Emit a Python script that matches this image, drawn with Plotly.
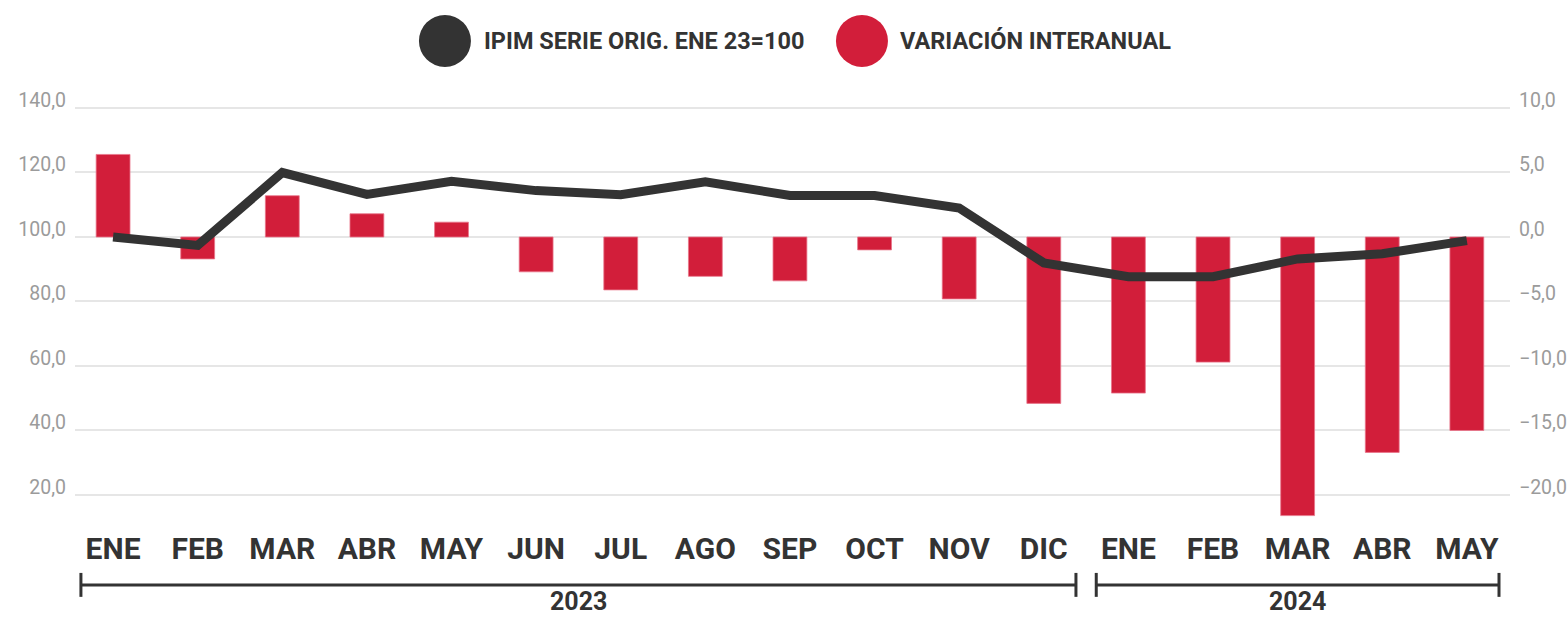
import plotly.graph_objects as go

months = ["ENE", "FEB", "MAR", "ABR", "MAY", "JUN", "JUL", "AGO", "SEP", "OCT", "NOV", "DIC",
          "ENE", "FEB", "MAR", "ABR", "MAY"]
years = ["2023", "2024"]
year_start_idx = [0, 12]
year_end_idx = [11, 16]

ipim = [100.0, 97.4, 120.0, 113.2, 117.3, 114.4, 113.1, 117.1, 112.9, 112.9, 109.0, 92.0,
        87.7, 87.7, 93.2, 94.8, 98.9]
var_ia = [6.4, -1.7, 3.2, 1.8, 1.15, -2.7, -4.1, -3.05, -3.4, -1.0, -4.8, -12.9,
          -12.1, -9.7, -21.6, -16.7, -15.0]

left_ticks = [20, 40, 60, 80, 100, 120, 140]
right_ticks = [-20, -15, -10, -5, 0, 5, 10]

x = list(range(len(months)))

FONT = "Roboto, Liberation Sans, sans-serif"
DARK = "#333333"
RED = "#D21E3A"
GRAY = "#9B9B9B"

fig = go.Figure()
fig.add_trace(go.Bar(x=x, y=var_ia, yaxis="y", marker=dict(color=RED, line=dict(color="#E8758A", width=0.8)),
                     width=0.4, name="VARIACIÓN INTERANUAL"))
fig.add_trace(go.Scatter(x=x, y=ipim, yaxis="y2", mode="lines",
                         line=dict(color=DARK, width=9), name="IPIM SERIE ORIG. ENE 23=100"))

fig.update_layout(
    width=1567, height=619,
    margin=dict(l=75, r=57, t=100, b=99, autoexpand=False),
    paper_bgcolor="white", plot_bgcolor="white",
    showlegend=False,
    separators=",.",
    hovermode=False,
    xaxis=dict(range=[-0.45, 16.51], tickvals=x, ticktext=months, showgrid=False, zeroline=False,
               showline=False, ticks="outside", ticklen=2, tickcolor="rgba(0,0,0,0)",
               automargin=False,
               tickfont=dict(family=FONT, size=30, color=DARK, weight="bold")),
    yaxis=dict(range=[-21.94, 10.62], side="right", tickvals=right_ticks, tickformat=".1f",
               showgrid=True, gridcolor="#E6E6E6", gridwidth=2, zeroline=False, showline=False,
               ticklabelstandoff=8, ticklabelshift=-8, automargin=False,
               tickfont=dict(family=FONT, size=19.5, color=GRAY)),
    yaxis2=dict(range=[12.25, 142.5], side="left", overlaying="y", tickvals=left_ticks, tickformat=".1f",
                showgrid=False, zeroline=False, showline=False,
                ticklabelstandoff=8, ticklabelshift=-8, automargin=False,
                tickfont=dict(family=FONT, size=19.5, color=GRAY)),
)

# Legend (drawn manually for large circular markers)
legend_items = [("IPIM SERIE ORIG. ENE 23=100", DARK, 0.2578, 0.2836),
                ("VARIACIÓN INTERANUAL", RED, 0.5484, 0.5735)]
for label, col, cx, tx in legend_items:
    fig.add_shape(type="circle", xref="paper", yref="paper", xsizemode="pixel", ysizemode="pixel",
                  xanchor=cx, yanchor=1.1405, x0=-26, x1=26, y0=-26, y1=26,
                  fillcolor=col, line=dict(width=0))
    fig.add_annotation(xref="paper", yref="paper", x=tx, y=1.1405, text=label, showarrow=False,
                       xanchor="left", yanchor="middle",
                       font=dict(family=FONT, size=23.5, color=DARK, weight="bold"))

# Year brackets
for yr, s, e in zip(years, year_start_idx, year_end_idx):
    x0 = s - 0.38
    x1 = e + 0.38
    fig.add_shape(type="line", xref="x", yref="paper", x0=x0, x1=x1, y0=-0.1548, y1=-0.1548,
                  line=dict(color=DARK, width=3))
    for xx in (x0, x1):
        fig.add_shape(type="line", xref="x", yref="paper", x0=xx, x1=xx, y0=-0.126, y1=-0.183,
                      line=dict(color=DARK, width=3))
    fig.add_annotation(xref="x", yref="paper", x=(s + e) / 2, y=-0.193, text=yr, showarrow=False,
                       xanchor="center", yanchor="middle",
                       font=dict(family=FONT, size=25, color=DARK, weight="bold"))

fig.write_html("out.html", config={"displayModeBar": False},
               post_script="document.body.style.margin='0';document.body.style.padding='0';")
